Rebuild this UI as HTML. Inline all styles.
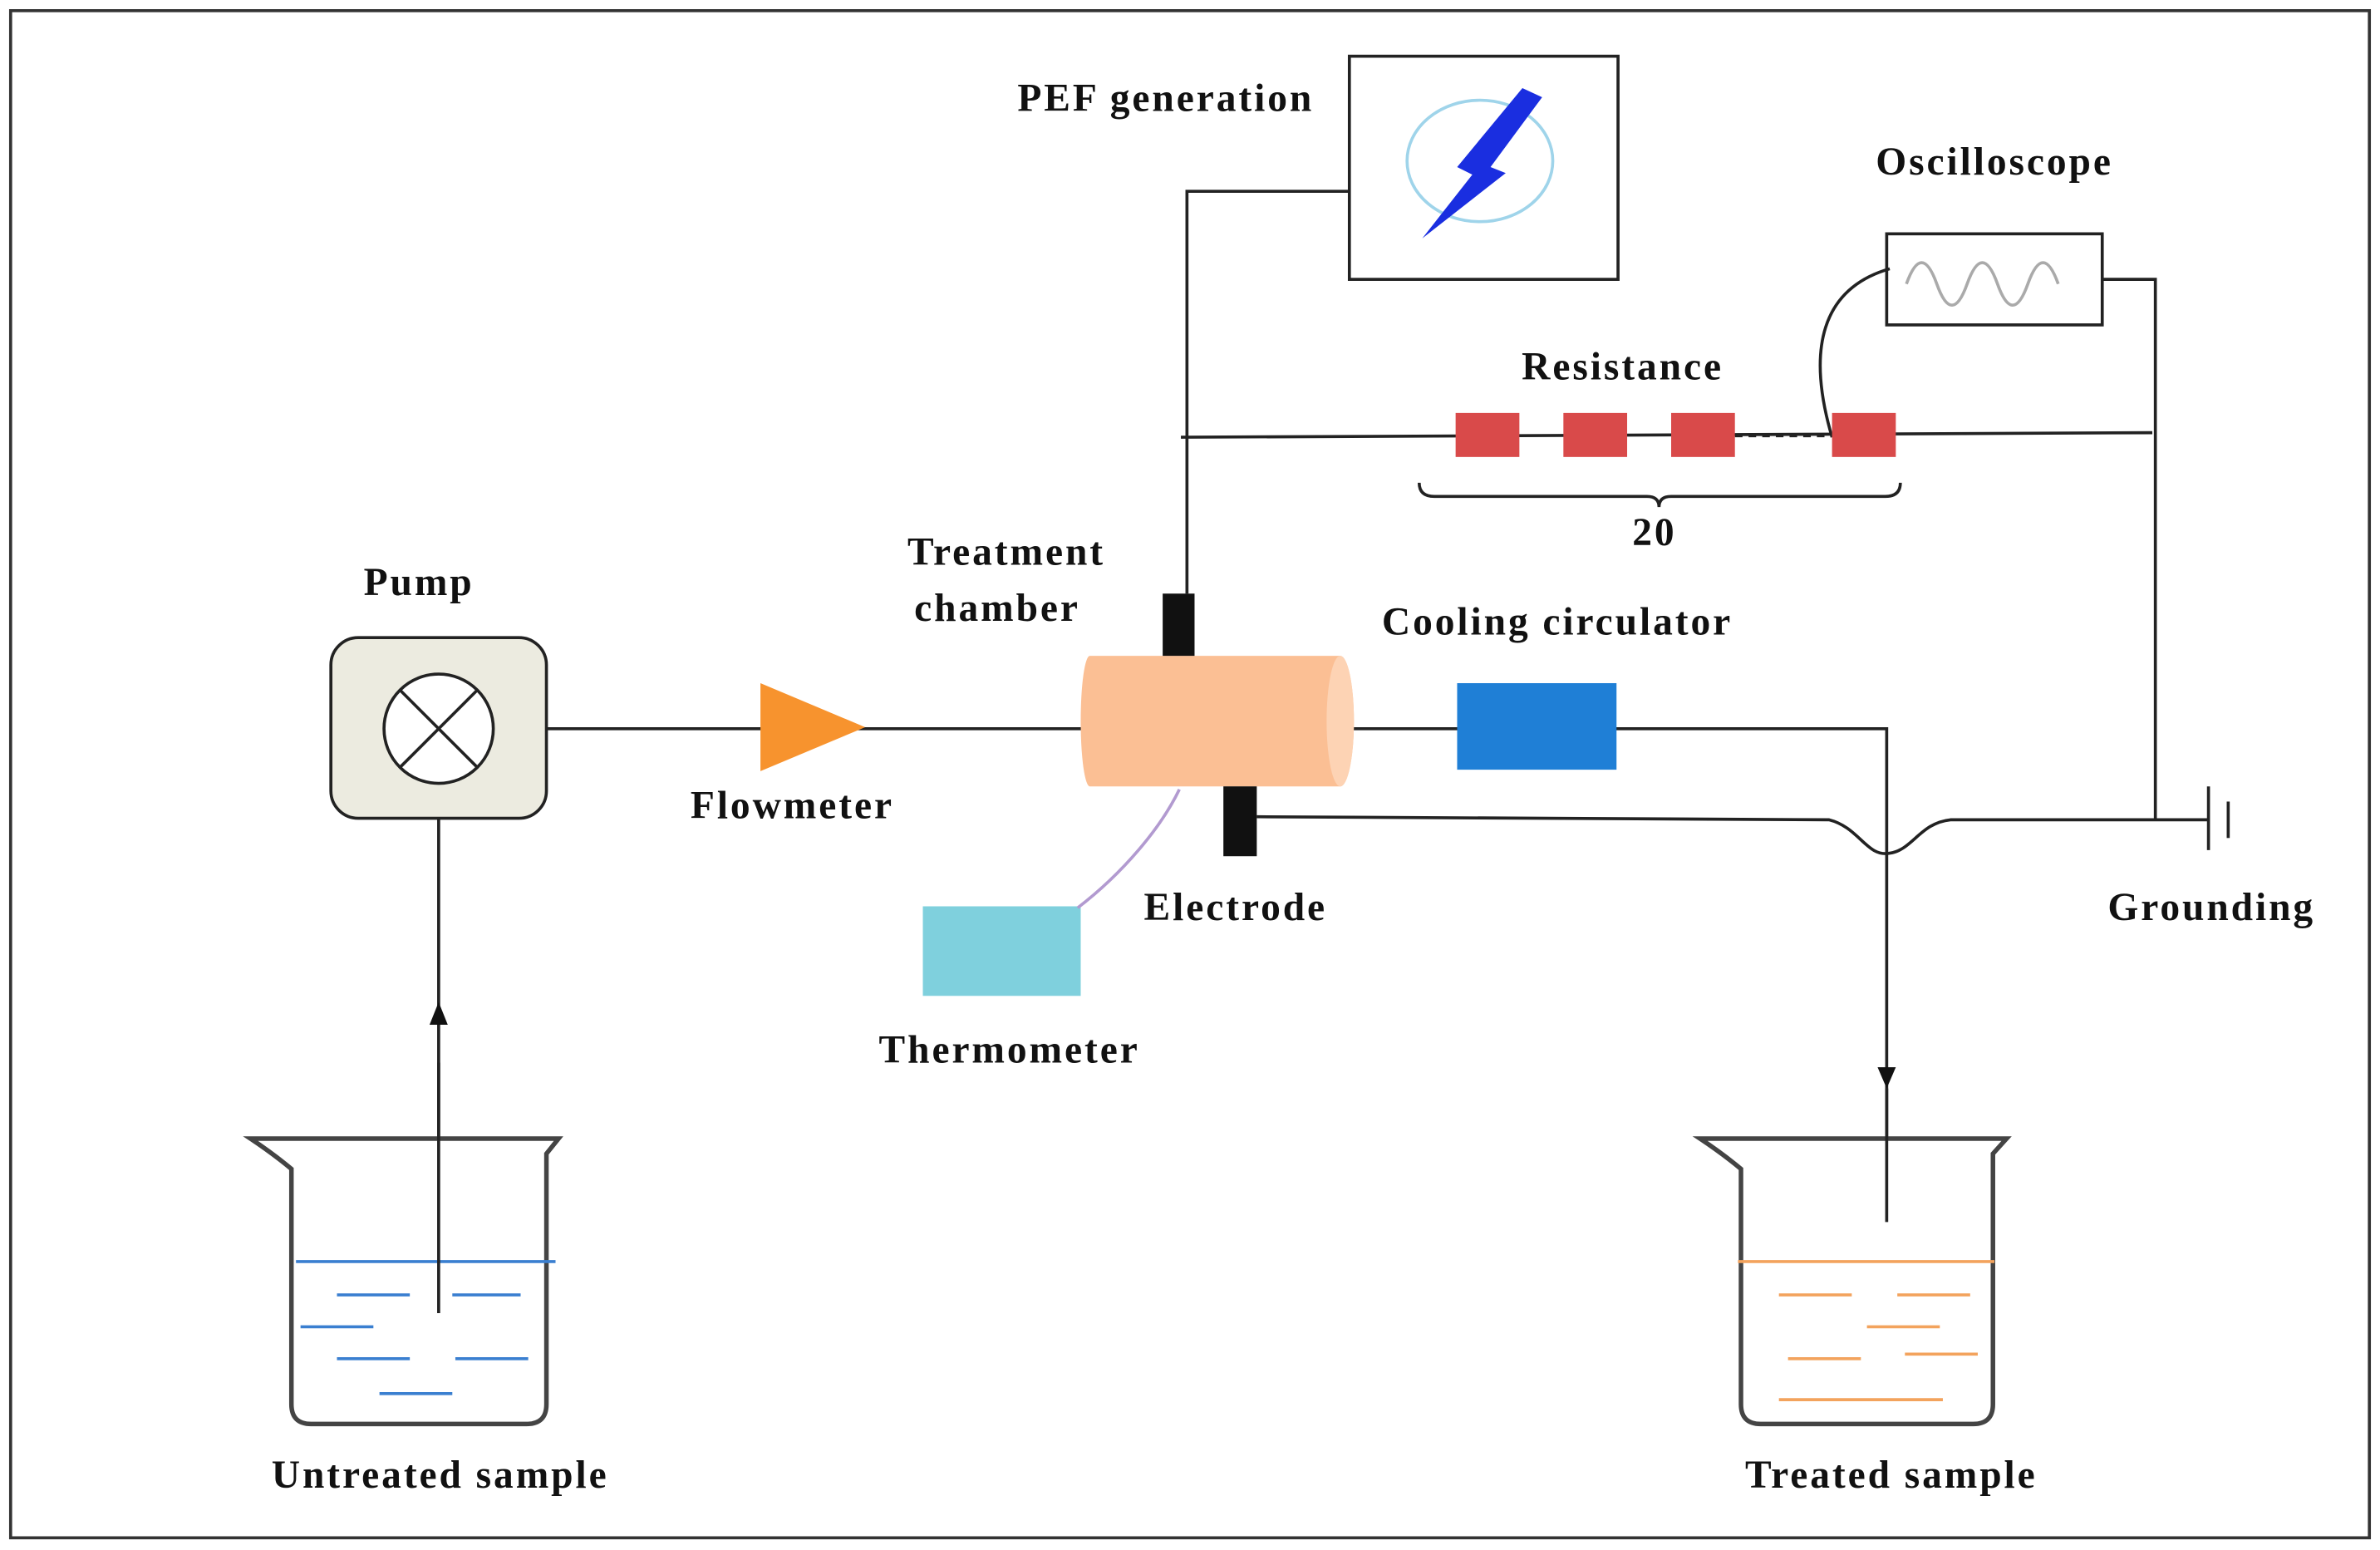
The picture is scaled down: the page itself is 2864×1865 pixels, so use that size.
<!DOCTYPE html>
<html><head><meta charset="utf-8"><style>html,body{margin:0;padding:0;background:#fff}svg{display:block}</style></head>
<body>
<svg width="2864" height="1865" viewBox="0 0 1568 1021" xmlns="http://www.w3.org/2000/svg">
<rect x="0" y="0" width="1568" height="1021" fill="#fff"/>
<rect x="7" y="7" width="1554" height="1006" fill="none" stroke="#333" stroke-width="2"/>
<g font-family="Liberation Serif, serif" font-weight="bold" font-size="26" fill="#111" text-anchor="middle" letter-spacing="1.6">
<text x="768" y="73">PEF generation</text>
<text x="1314" y="115">Oscilloscope</text>
<text x="1069" y="250">Resistance</text>
<text x="1090" y="359">20</text>
<text x="276" y="392">Pump</text>
<text x="663" y="372">Treatment</text>
<text x="657" y="409">chamber</text>
<text x="1026" y="418">Cooling circulator</text>
<text x="522" y="539">Flowmeter</text>
<text x="814" y="606">Electrode</text>
<text x="1457" y="606">Grounding</text>
<text x="665" y="700">Thermometer</text>
<text x="290" y="980">Untreated sample</text>
<text x="1246" y="980">Treated sample</text>
</g>
<g fill="none" stroke="#222" stroke-width="2">
<rect x="889" y="37" width="177" height="147"/>
<polyline points="889,126 782,126 782,391"/>
<rect x="1243" y="154" width="142" height="60"/>
<polyline points="1385,184 1420,184 1420,540"/>
<path d="M1245,177 C1200,190 1190,230 1207,288"/>
<line x1="778" y1="288" x2="1418" y2="285"/>
<path d="M935,318 Q935,327 945,327 L1085,327 Q1093,327 1093,334 Q1093,327 1101,327 L1242,327 Q1252,327 1252,318"/>
<line x1="360" y1="480" x2="713" y2="480"/>
<polyline points="890,480 1243,480 1243,805"/>
<path d="M828,538 L1205,540 C1225,545 1230,565 1245,562 C1260,560 1265,542 1285,540 L1455,540"/>
<line x1="1455" y1="518" x2="1455" y2="560"/>
<line x1="1468" y1="528" x2="1468" y2="552"/>
<line x1="289" y1="865" x2="289" y2="539"/>
</g>
<line x1="1143" y1="287" x2="1207" y2="287" stroke="#222" stroke-width="2" stroke-dasharray="5,4"/>
<polygon points="289,660 283,675 295,675" fill="#111"/>
<polygon points="1243,717 1237,703 1249,703" fill="#111"/>
<ellipse cx="975" cy="106" rx="48" ry="40" fill="none" stroke="#9fd4ea" stroke-width="2"/>
<polygon points="1003,58 1016,64 982,110 992,114 937,157 970,115 960,110" fill="#1a2ee0"/>
<path d="M1256,187 q10,-28 20,0 q10,28 20,0 q10,-28 20,0 q10,28 20,0 q10,-28 20,0" fill="none" stroke="#aaa" stroke-width="2"/>
<g fill="#d94a4a"><rect x="959" y="272" width="42" height="29"/><rect x="1030" y="272" width="42" height="29"/><rect x="1101" y="272" width="42" height="29"/><rect x="1207" y="272" width="42" height="29"/></g>
<rect x="218" y="420" width="142" height="119" rx="18" fill="#ecebe0" stroke="#222" stroke-width="2"/>
<circle cx="289" cy="480" r="36" fill="#fff" stroke="#222" stroke-width="2"/>
<line x1="264" y1="455" x2="314" y2="505" stroke="#222" stroke-width="2"/>
<line x1="314" y1="455" x2="264" y2="505" stroke="#222" stroke-width="2"/>
<polygon points="501,450 570,479 501,508" fill="#f7932e"/>
<path d="M718,432 L883,432 A9,43 0 0 1 883,518 L718,518 A6,43 0 0 1 718,432 Z" fill="#fbbf94"/>
<ellipse cx="883" cy="475" rx="9" ry="43" fill="#fdd3b4"/>
<rect x="766" y="391" width="21" height="41" fill="#111"/>
<rect x="806" y="518" width="22" height="46" fill="#111"/>
<rect x="960" y="450" width="105" height="57" fill="#1f7fd6"/>
<rect x="608" y="597" width="104" height="59" fill="#7fd0dd"/>
<path d="M710,598 C740,575 765,545 777,520" fill="none" stroke="#b29ad0" stroke-width="2"/>
<path d="M165,750 L368,750 L360,760 L360,925 Q360,938 347,938 L205,938 Q192,938 192,925 L192,770 Q180,760 165,750 Z" fill="#fff" stroke="#444" stroke-width="3"/>
<g stroke="#3a7fd0" stroke-width="2">
<line x1="195" y1="831" x2="366" y2="831"/><line x1="222" y1="853" x2="270" y2="853"/><line x1="298" y1="853" x2="343" y2="853"/>
<line x1="198" y1="874" x2="246" y2="874"/><line x1="222" y1="895" x2="270" y2="895"/><line x1="300" y1="895" x2="348" y2="895"/><line x1="250" y1="918" x2="298" y2="918"/>
</g>
<line x1="289" y1="865" x2="289" y2="700" stroke="#222" stroke-width="2"/>
<path d="M1120,750 L1322,750 L1313,760 L1313,925 Q1313,938 1300,938 L1160,938 Q1147,938 1147,925 L1147,770 Q1135,760 1120,750 Z" fill="#fff" stroke="#444" stroke-width="3"/>
<g stroke="#f3a35d" stroke-width="2">
<line x1="1145" y1="831" x2="1314" y2="831"/><line x1="1172" y1="853" x2="1220" y2="853"/><line x1="1250" y1="853" x2="1298" y2="853"/>
<line x1="1230" y1="874" x2="1278" y2="874"/><line x1="1178" y1="895" x2="1226" y2="895"/><line x1="1255" y1="892" x2="1303" y2="892"/><line x1="1172" y1="922" x2="1280" y2="922"/>
</g>
<line x1="1243" y1="717" x2="1243" y2="805" stroke="#222" stroke-width="2"/>
</svg>
</body></html>
